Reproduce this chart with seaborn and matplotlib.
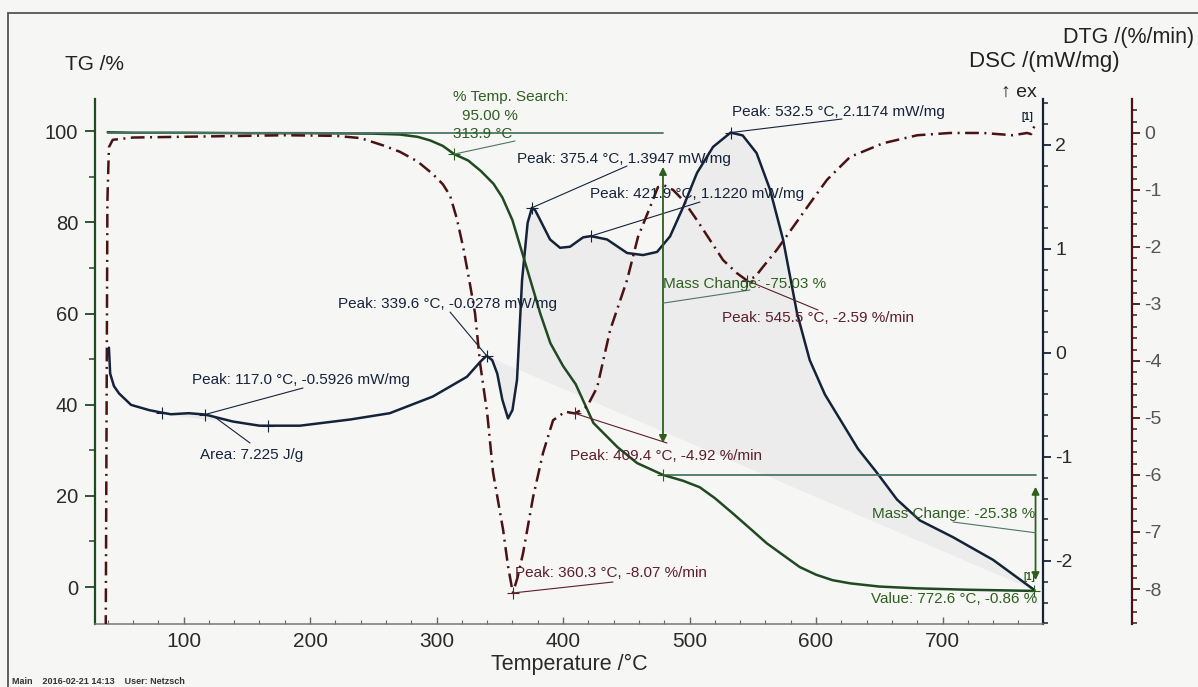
import matplotlib
matplotlib.use('Agg')
import matplotlib.pyplot as plt
from matplotlib.lines import Line2D
from matplotlib.ticker import MultipleLocator
import numpy as np
import pandas as pd
import seaborn as sns

#%%
# Data read off the scanned NETZSCH TG / DSC / DTG plot

# TG curve, mass in %
tg_temp = [40, 60, 100, 150, 200, 250, 271, 285, 295, 305,
           313.9, 325, 335, 345, 352, 360, 367, 374, 382, 390,
           400, 410, 424, 443, 458.5, 479, 495, 508, 520, 534,
           548, 561, 575, 587, 600, 613, 627, 650, 680, 720,
           772.6]
tg_mass = [99.8, 99.7, 99.7, 99.6, 99.6, 99.5, 99.3, 98.8, 98.0, 96.8,
           95.0, 93.6, 91.3, 88.5, 85.5, 80.5, 74.0, 67.5, 60.0, 53.5,
           48.5, 44.5, 36.0, 30.7, 27.2, 24.6, 23.3, 21.9, 19.5, 16.2,
           12.8, 9.6, 6.8, 4.4, 2.7, 1.5, 0.8, 0.1, -0.3, -0.6,
           -0.86]

# DSC curve, mW/mg
dsc_temp = [41, 42, 45, 49, 58.5, 72.7, 83, 90, 104, 117.0,
            139, 160, 167, 192, 232, 263, 297, 324, 335, 339.6,
            344, 348, 352, 356.5, 360, 363.6, 367.6, 372, 375.4, 378,
            381.8, 389.7, 397.6, 405.5, 415.8, 421.9, 434.8, 450.6, 463.2, 474.3,
            484.6, 494.9, 505.9, 518.6, 532.5, 542, 553, 563.6, 573.9, 585,
            595, 607, 619, 633, 648, 664, 682, 708, 740, 772.6]
dsc_val = [0.05, -0.2, -0.32, -0.39, -0.50, -0.55, -0.575, -0.59, -0.58, -0.5926,
           -0.66, -0.70, -0.70, -0.70, -0.64, -0.58, -0.42, -0.23, -0.08, -0.0278,
           -0.07, -0.2, -0.45, -0.63, -0.55, -0.26, 0.70, 1.25, 1.3947, 1.37,
           1.28, 1.09, 1.01, 1.02, 1.11, 1.1220, 1.09, 0.96, 0.94, 0.97,
           1.12, 1.40, 1.73, 1.98, 2.1174, 2.09, 1.92, 1.57, 1.09, 0.38,
           -0.07, -0.40, -0.64, -0.92, -1.15, -1.41, -1.61, -1.77, -1.99, -2.28]

# DTG curve, %/min
dtg_temp = [38.5, 39.8, 41, 44, 60, 120, 180, 220, 240, 258,
            271, 285, 297, 305, 310.7, 316, 321, 326, 330.4, 334.4,
            340, 344.7, 352.6, 356.5, 360.3, 364, 368.4, 376.3, 384.2, 392.1,
            401.6, 409.4, 419, 427, 437.2, 450.6, 459.3, 468.8, 475, 480,
            487, 494.9, 505.9, 516.2, 526.5, 537.5, 545.5, 552, 558, 569,
            581.8, 595.3, 608.7, 626.9, 653, 680, 706, 732, 755.7, 766.8,
            770, 772.6]
dtg_val = [-8.7, -1.2, -0.25, -0.12, -0.08, -0.06, -0.04, -0.05, -0.09, -0.22,
           -0.33, -0.5, -0.72, -0.9, -1.1, -1.5, -2.0, -2.6, -3.16, -4.04,
           -4.91, -5.96, -6.96, -7.6, -8.07, -7.8, -7.37, -6.39, -5.61, -5.04,
           -4.89, -4.92, -4.8, -4.46, -3.46, -2.58, -1.82, -1.30, -0.95, -0.92,
           -1.0, -1.18, -1.53, -1.88, -2.23, -2.46, -2.59, -2.52, -2.35, -2.05,
           -1.65, -1.23, -0.82, -0.42, -0.18, -0.04, 0.0, 0.0, -0.04, 0.0,
           -0.02, 0.12]

# evaluated points
dsc_mark_temp = [83, 117.0, 167, 339.6, 375.4, 421.9, 532.5]
dsc_mark_val = [-0.575, -0.5926, -0.70, -0.0278, 1.3947, 1.1220, 2.1174]
dtg_mark_temp = [360.3, 409.4, 545.5]
dtg_mark_val = [-8.07, -4.92, -2.59]
tg_mark_temp = [313.9, 479.0, 772.6]
tg_mark_val = [95.0, 24.6, -0.86]
tg_levels = [99.63, 24.60]          # mass change steps
tg_arrow1 = [92.2, 31.6]            # arrow drawn at 479 C
tg_arrow2 = [22.0, 1.5]             # arrow drawn at 772.6 C

tg = pd.DataFrame({'T': tg_temp, 'TG': tg_mass})
dsc = pd.DataFrame({'T': dsc_temp, 'DSC': dsc_val})
dtg = pd.DataFrame({'T': dtg_temp, 'DTG': dtg_val})

#%%
W, H = 1198, 687
bg = '#f6f6f5'
tg_c = '#1f4a22'
tg_txt = '#2e5f1e'
ref_c = '#4d7566'
dsc_c = '#15233a'
dtg_c = '#4a1212'
dtg_txt = '#5b1f2b'

sns.set_theme(style='white')
plt.rcParams['font.family'] = ['Liberation Sans', 'DejaVu Sans']
plt.rcParams['axes.unicode_minus'] = False

fig = plt.figure(figsize=(W / 100, H / 100), dpi=100, facecolor=bg)
ax = fig.add_axes([95 / W, 1 - 624 / H, 948 / W, 525 / H])
ax2 = ax.twinx()
ax3 = ax.twinx()

# stacking: DSC (with shaded areas) at the bottom, then TG, then DTG
ax2.set_zorder(0)
ax.set_zorder(1)
ax3.set_zorder(2)
ax.patch.set_visible(False)
ax2.patch.set_visible(False)
ax3.patch.set_visible(False)

ax.set_xlim(30, 779.4)
ax.set_ylim(-8.12, 107.1)
ax2.set_ylim(-2.606, 2.44)
ax3.set_ylim(-8.614, 0.596)

# shaded integration areas on DSC
a1 = dsc[(dsc['T'] >= 83) & (dsc['T'] <= 167)]
b1 = np.linspace(-0.575, -0.70, len(a1))
ax2.fill_between(a1['T'], a1['DSC'], b1, color='#e9e9e9', lw=0)
a2 = dsc[dsc['T'] >= 339.6]
b2 = -0.0278 + (a2['T'] - 339.6) / (772.6 - 339.6) * (-2.28 + 0.0278)
ax2.fill_between(a2['T'], a2['DSC'], b2, color='#ececec', lw=0)

# curves
sns.lineplot(data=dsc, x='T', y='DSC', ax=ax2, color=dsc_c, lw=1.8,
             estimator=None, sort=False)
sns.lineplot(data=tg, x='T', y='TG', ax=ax, color=tg_c, lw=1.8,
             estimator=None, sort=False)
sns.lineplot(data=dtg, x='T', y='DTG', ax=ax3, color=dtg_c, lw=1.8,
             linestyle=(0, (5.5, 2.2, 0.8, 2.2)), estimator=None, sort=False)

# mass change reference lines and arrows
ax.plot([40, tg_mark_temp[1]], [tg_levels[0]] * 2, color=ref_c, lw=1.3)
ax.plot([tg_mark_temp[1], 774], [tg_levels[1]] * 2, color=ref_c, lw=1.3)
for t, (y1, y2) in zip([tg_mark_temp[1], 773.5], [tg_arrow1, tg_arrow2]):
    ax.annotate('', xy=(t, y1), xytext=(t, y2),
                arrowprops=dict(arrowstyle='<|-|>', color=tg_txt, lw=1.3,
                                mutation_scale=11, shrinkA=0, shrinkB=0))

# marks
ax.plot(tg_mark_temp, tg_mark_val, ls='none', marker='+', ms=8, mew=0.8, color=tg_txt)
ax2.plot(dsc_mark_temp, dsc_mark_val, ls='none', marker='+', ms=8, mew=0.8, color=dsc_c)
ax3.plot(dtg_mark_temp, dtg_mark_val, ls='none', marker='+', ms=8, mew=0.8, color=dtg_txt)

#%%
# spines and ticks
for a in (ax2, ax3):
    for s in ('left', 'top', 'bottom'):
        a.spines[s].set_visible(False)
ax.spines['top'].set_visible(False)
ax.spines['right'].set_visible(False)
ax.spines['left'].set_color(tg_c)
ax.spines['left'].set_linewidth(1.6)
ax.spines['bottom'].set_color('#777777')
ax.spines['bottom'].set_linewidth(1.1)
ax2.spines['right'].set_color(dsc_c)
ax2.spines['right'].set_linewidth(1.6)
ax3.spines['right'].set_position(('axes', 1 + 89 / 948))
ax3.spines['right'].set_color(dtg_c)
ax3.spines['right'].set_linewidth(1.6)

ax.set_xticks([100, 200, 300, 400, 500, 600, 700])
ax.xaxis.set_minor_locator(MultipleLocator(20))
ax.tick_params(axis='x', which='both', direction='in', color='#666666',
               labelsize=15, labelcolor='#2a2a2a', pad=6, bottom=True)
ax.tick_params(axis='x', which='major', length=5, width=1)
ax.tick_params(axis='x', which='minor', length=3, width=0.8)

ax.set_yticks([0, 20, 40, 60, 80, 100])
ax.yaxis.set_minor_locator(MultipleLocator(10))
ax.tick_params(axis='y', which='both', direction='out', color=tg_c,
               labelsize=14.5, labelcolor='#2a2a2a', pad=5, left=True)
ax.tick_params(axis='y', which='major', length=7, width=1.3)
ax.tick_params(axis='y', which='minor', length=4, width=1.1)

ax2.set_yticks([-2, -1, 0, 1, 2])
ax2.yaxis.set_minor_locator(MultipleLocator(0.2))
ax2.tick_params(axis='y', which='both', direction='out', color=dsc_c,
                labelsize=14, labelcolor='#2a2a2a', pad=3, right=True)
ax2.tick_params(axis='y', which='major', length=6, width=1.3)
ax2.tick_params(axis='y', which='minor', length=3.5, width=1.1)

ax3.set_yticks([-8, -7, -6, -5, -4, -3, -2, -1, 0])
ax3.yaxis.set_minor_locator(MultipleLocator(0.2))
ax3.tick_params(axis='y', which='both', direction='out', color=dtg_c,
                labelsize=14, labelcolor='#555555', pad=3, right=True)
ax3.tick_params(axis='y', which='major', length=6, width=1.3)
ax3.tick_params(axis='y', which='minor', length=3.5, width=1.1)

ax.set_xlabel('Temperature /°C', fontsize=15.5, color='#2a2a2a', labelpad=2)
ax.set_ylabel('')
ax2.set_ylabel('')
ax3.set_ylabel('')

#%%
# annotations: text placed in figure pixels, leaders tied to the data marks
def put(x, y, s, color, ha='left', size=11):
    fig.text(x / W, 1 - y / H, s, ha=ha, va='center', fontsize=size, color=color)

def leader(a, xy, px, color):
    a.annotate('', xy=xy, xycoords='data', xytext=(px[0], H - px[1]),
               textcoords='figure pixels',
               arrowprops=dict(arrowstyle='-', color=color, lw=0.8,
                               shrinkA=0, shrinkB=0))

put(65, 65, 'TG /%', '#222222', size=15)
put(1129, 38, 'DTG /(%/min)', '#222222', ha='center', size=15.5)
put(1044, 61, 'DSC /(mW/mg)', '#222222', ha='center', size=16)
put(1001, 92, '↑ ex', '#222222', size=14)
fig.text(1021 / W, 1 - 117 / H, '[1]', fontsize=7, color=dsc_c, weight='bold', va='center')

# DSC
put(732, 112, 'Peak: 532.5 °C, 2.1174 mW/mg', dsc_c)
leader(ax2, (532.5, 2.1174), (842, 119), dsc_c)
put(517, 159, 'Peak: 375.4 °C, 1.3947 mW/mg', dsc_c)
leader(ax2, (375.4, 1.3947), (627, 166), dsc_c)
put(590, 194, 'Peak: 421.9 °C, 1.1220 mW/mg', dsc_c)
leader(ax2, (421.9, 1.1220), (700, 202), dsc_c)
put(338, 304, 'Peak: 339.6 °C, -0.0278 mW/mg', dsc_c)
leader(ax2, (339.6, -0.0278), (450, 312), dsc_c)
put(192, 380, 'Peak: 117.0 °C, -0.5926 mW/mg', dsc_c)
leader(ax2, (117.0, -0.5926), (303, 388), dsc_c)
put(200, 455, 'Area: 7.225 J/g', dsc_c)
leader(ax2, (125, -0.62), (250, 443), dsc_c)

# DTG
put(722, 318, 'Peak: 545.5 °C, -2.59 %/min', dtg_txt)
leader(ax3, (545.5, -2.59), (818, 310), dtg_txt)
put(570, 456, 'Peak: 409.4 °C, -4.92 %/min', dtg_txt)
leader(ax3, (409.4, -4.92), (667, 443), dtg_txt)
put(515, 573, 'Peak: 360.3 °C, -8.07 %/min', dtg_txt)
leader(ax3, (360.3, -8.07), (613, 582), dtg_txt)

# TG
put(453, 97, '% Temp. Search:', tg_txt)
put(462, 116, '95.00 %', tg_txt)
put(453, 134, '313.9 °C', tg_txt)
leader(ax, (313.9, 95.0), (515, 141), ref_c)
put(663, 284, 'Mass Change: -75.03 %', tg_txt)
leader(ax, (479.0, 62.3), (750, 290), ref_c)
put(1035, 514, 'Mass Change: -25.38 %', tg_txt, ha='right')
leader(ax, (773.5, 11.9), (953, 522), ref_c)
put(1037, 599, 'Value: 772.6 °C, -0.86 %', tg_txt, ha='right')
fig.text(1023 / W, 1 - 577 / H, '[1]', fontsize=7, color=tg_txt, weight='bold', va='center')

# footer and scanned page frame
fig.text(12 / W, 1 - 682 / H, 'Main    2016-02-21 14:13    User: Netzsch',
         fontsize=6.5, weight='bold', color='#333333', va='center')
fig.add_artist(Line2D([8 / W, 1], [1 - 13 / H, 1 - 13 / H], color='#555555', lw=1.3))
fig.add_artist(Line2D([8 / W, 8 / W], [0, 1 - 13 / H], color='#555555', lw=1.3))

fig.savefig('out.png', dpi=100, facecolor=bg)
